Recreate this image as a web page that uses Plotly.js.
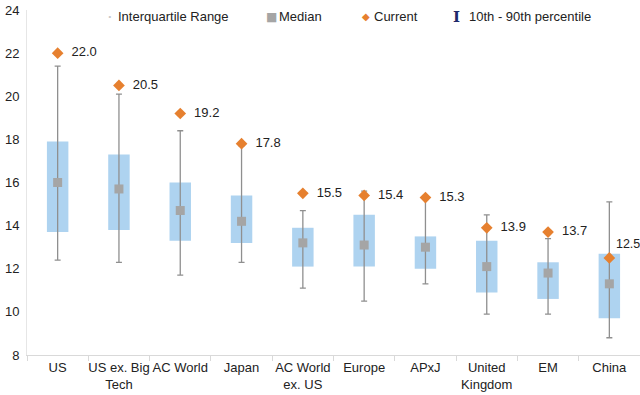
<!DOCTYPE html>
<html><head><meta charset="utf-8">
<script src="https://cdn.plot.ly/plotly-3.0.1.min.js"></script>
<style>html,body{margin:0;padding:0;background:#fff}#c{width:640px;height:395px}</style>
</head><body><div id="c"></div>
<script>
const categories = ["US","US ex. Big<br>Tech","AC World","Japan","AC World<br>ex. US","Europe","APxJ","United<br>Kingdom","EM","China"];
const p10 =     [12.4, 12.3, 11.7, 12.3, 11.1, 10.5, 11.3, 9.9, 9.9, 8.8];
const q1 =      [13.7, 13.8, 13.3, 13.2, 12.1, 12.1, 12.0, 10.9, 10.6, 9.7];
const median =  [16.0, 15.7, 14.7, 14.2, 13.2, 13.1, 13.0, 12.1, 11.8, 11.3];
const q3 =      [17.9, 17.3, 16.0, 15.4, 13.9, 14.5, 13.5, 13.3, 12.3, 12.7];
const p90 =     [21.4, 20.1, 18.4, 17.7, 14.7, 15.6, 15.3, 14.5, 13.4, 15.1];
const current = [22.0, 20.5, 19.2, 17.8, 15.5, 15.4, 15.3, 13.9, 13.7, 12.5];

const last = categories.length-1;
const iqrBase = q1;
const iqrLen = q3.map((v,i)=>v-q1[i]);
const errPlus = p90.map((v,i)=>v-median[i]);
const errMinus = median.map((v,i)=>v-p10[i]);
const curText = current.map((v,i)=> (i===last ? "" : "  ")+v.toFixed(1));
const curPos = current.map((v,i)=> i===last ? "top right" : "middle right");
const curSize = current.map((v,i)=> i===last ? 12.5 : 13);

const font = {family:"Liberation Sans, Arial, sans-serif", size:13, color:"#222"};

const traces = [
  {type:"bar", x:categories, y:iqrLen, base:iqrBase, width:0.35,
   marker:{color:"#aed3f0", line:{width:0}}, showlegend:false, hoverinfo:"skip"},
  {type:"scatter", mode:"markers", x:categories, y:median,
   marker:{symbol:"square", size:9, color:"#a5a5a5"},
   error_y:{type:"data", symmetric:false, array:errPlus, arrayminus:errMinus,
            color:"#8f8f8f", thickness:1.3, width:3},
   showlegend:false},
  {type:"scatter", mode:"markers+text", x:categories, y:current, text:curText,
   textposition:curPos, textfont:{family:font.family, size:curSize, color:"#222"},
   marker:{symbol:"diamond", size:9, color:"#e6802f"}, showlegend:false, cliponaxis:false}
];

function px(p){return (p-27)/613;}
const ly = 0.98;
const annotations = [
  {xref:"paper",yref:"paper",x:px(110),y:ly,text:"<b>·</b>",showarrow:false,xanchor:"center",yanchor:"middle",font:{family:font.family,size:13,color:"#c8c8c8"}},
  {xref:"paper",yref:"paper",x:px(116),y:ly,text:"Interquartile Range",showarrow:false,xanchor:"left",yanchor:"middle",font:font},
  {xref:"paper",yref:"paper",x:px(271),y:ly,text:"■",showarrow:false,xanchor:"center",yanchor:"middle",font:{family:"DejaVu Sans",size:12,color:"#a5a5a5"}},
  {xref:"paper",yref:"paper",x:px(277),y:ly,text:"Median",showarrow:false,xanchor:"left",yanchor:"middle",font:font},
  {xref:"paper",yref:"paper",x:px(366),y:ly,text:"◆",showarrow:false,xanchor:"center",yanchor:"middle",font:{family:"DejaVu Sans",size:10,color:"#e6802f"}},
  {xref:"paper",yref:"paper",x:px(372),y:ly,text:"Current",showarrow:false,xanchor:"left",yanchor:"middle",font:font},
  {xref:"paper",yref:"paper",x:px(456),y:ly,text:"<b>I</b>",showarrow:false,xanchor:"center",yanchor:"middle",font:{family:"DejaVu Serif",size:15,color:"#1f2a6b"}},
  {xref:"paper",yref:"paper",x:px(467),y:ly,text:"10th - 90th percentile",showarrow:false,xanchor:"left",yanchor:"middle",font:font}
];

const layout = {
  width:640, height:395,
  margin:{l:27, r:0, t:10, b:40},
  paper_bgcolor:"#fff", plot_bgcolor:"#fff",
  font:font,
  showlegend:false,
  xaxis:{type:"category", range:[-0.5,9.5], showline:true, linecolor:"#d9d9d9", linewidth:1,
         ticks:"outside", tickson:"boundaries", ticklen:5, tickcolor:"#d9d9d9", tickangle:0,
         showgrid:false, zeroline:false, tickfont:font, fixedrange:true, automargin:false},
  yaxis:{range:[8,24], dtick:2, showline:true, linecolor:"#e6e6e6", linewidth:1,
         ticks:"", showgrid:false, zeroline:false, tickfont:font, ticklabelstandoff:4, fixedrange:true},
  annotations:annotations
};
Plotly.newPlot("c", traces, layout, {displayModeBar:false, staticPlot:true});
</script></body></html>
